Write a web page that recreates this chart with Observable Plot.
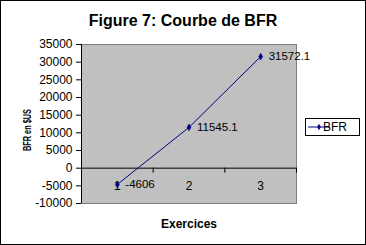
<!DOCTYPE html>
<html>
<head>
<meta charset="utf-8">
<script src="https://cdn.jsdelivr.net/npm/d3@7"></script>
<script src="https://cdn.jsdelivr.net/npm/@observablehq/plot@0.6"></script>
<style>
  html, body { margin: 0; padding: 0; background: white; }
  #wrap { position: relative; width: 366px; height: 245px; }
  #border { position: absolute; left: 0; top: 0; width: 364px; height: 243px; border: 1px solid black; pointer-events: none; }
  svg { display: block; }
</style>
</head>
<body>
<div id="wrap"><div id="border"></div></div>
<script>
// ---- data ----
const exercices = [1, 2, 3];
const bfr = [-4606, 11545.1, 31572.1];
const yTicks = [-10000, -5000, 0, 5000, 10000, 15000, 20000, 25000, 30000, 35000];
const xBoundaries = [1.5, 2.5, 3.5];
const titleText = "Figure 7: Courbe de BFR";
const xLabel = "Exercices";
const yLabel = "BFR en $US";
const seriesName = "BFR";

const data = exercices.map((e, i) => ({exercice: e, bfr: bfr[i]}));
const navy = "#000080";

const chart = Plot.plot({
  width: 366,
  height: 245,
  marginLeft: 81,
  marginRight: 70,
  marginTop: 44,
  marginBottom: 42,
  style: {fontFamily: "'Liberation Sans', Arial, sans-serif", background: "transparent", color: "black"},
  x: {domain: [0.5, 3.5], axis: null},
  y: {domain: [-10000, 35000], axis: null},
  marks: [
    Plot.frame({fill: "#c0c0c0", stroke: "#808080"}),
    Plot.ruleY([0], {stroke: "black"}),
    Plot.ruleX(xBoundaries, {x: d => d, y1: 0, y2: 0, insetBottom: -5, stroke: "black"}),
    Plot.ruleX([0.5], {stroke: "black"}),
    Plot.axisY({ticks: yTicks, tickSize: 5, tickPadding: 4, tickFormat: d => String(d), fontSize: 12, label: null, stroke: "black"}),
    Plot.text(exercices, {x: d => d, y: 0, dy: 18, text: d => String(d), fontSize: 12, fill: "black"}),
    Plot.line(data, {x: "exercice", y: "bfr", stroke: navy, strokeWidth: 1}),
    Plot.dot(data, {x: "exercice", y: "bfr", symbol: "diamond", r: 2.1, fill: navy, stroke: navy, strokeWidth: 0.5}),
    Plot.text(data, {x: "exercice", y: "bfr", text: d => String(d.bfr), textAnchor: "start", dx: 8, fontSize: 11.5, fill: "black"})
  ]
});

document.getElementById("wrap").insertBefore(chart, document.getElementById("border"));

const svg = d3.select(chart);
const font = "'Liberation Sans', Arial, sans-serif";

// title
svg.append("text")
  .attr("x", 183).attr("y", 26)
  .attr("text-anchor", "middle")
  .attr("font-family", font).attr("font-weight", "bold").attr("font-size", 16)
  .attr("fill", "black")
  .text(titleText);

// x label
svg.append("text")
  .attr("x", 189).attr("y", 228)
  .attr("text-anchor", "middle")
  .attr("font-family", font).attr("font-weight", "bold").attr("font-size", 12)
  .attr("fill", "black")
  .text(xLabel);

// y label (squeezed like the original)
svg.append("text")
  .attr("transform", "translate(31,130) rotate(-90)")
  .attr("text-anchor", "middle")
  .attr("font-family", font).attr("font-weight", "bold").attr("font-size", 11)
  .attr("textLength", 42).attr("lengthAdjust", "spacingAndGlyphs")
  .attr("fill", "black")
  .text(yLabel);

// legend
const lg = svg.append("g");
lg.append("rect")
  .attr("x", 305.5).attr("y", 118.5).attr("width", 54).attr("height", 17)
  .attr("fill", "white").attr("stroke", "black");
lg.append("line")
  .attr("x1", 308).attr("x2", 330).attr("y1", 127).attr("y2", 127)
  .attr("stroke", navy);
lg.append("path")
  .attr("d", d3.symbol(d3.symbolDiamond, 12)())
  .attr("transform", "translate(319,127)")
  .attr("fill", navy);
lg.append("text")
  .attr("x", 335).attr("y", 131)
  .attr("font-family", font).attr("font-size", 12)
  .attr("fill", "black")
  .text(seriesName);
</script>
</body>
</html>
